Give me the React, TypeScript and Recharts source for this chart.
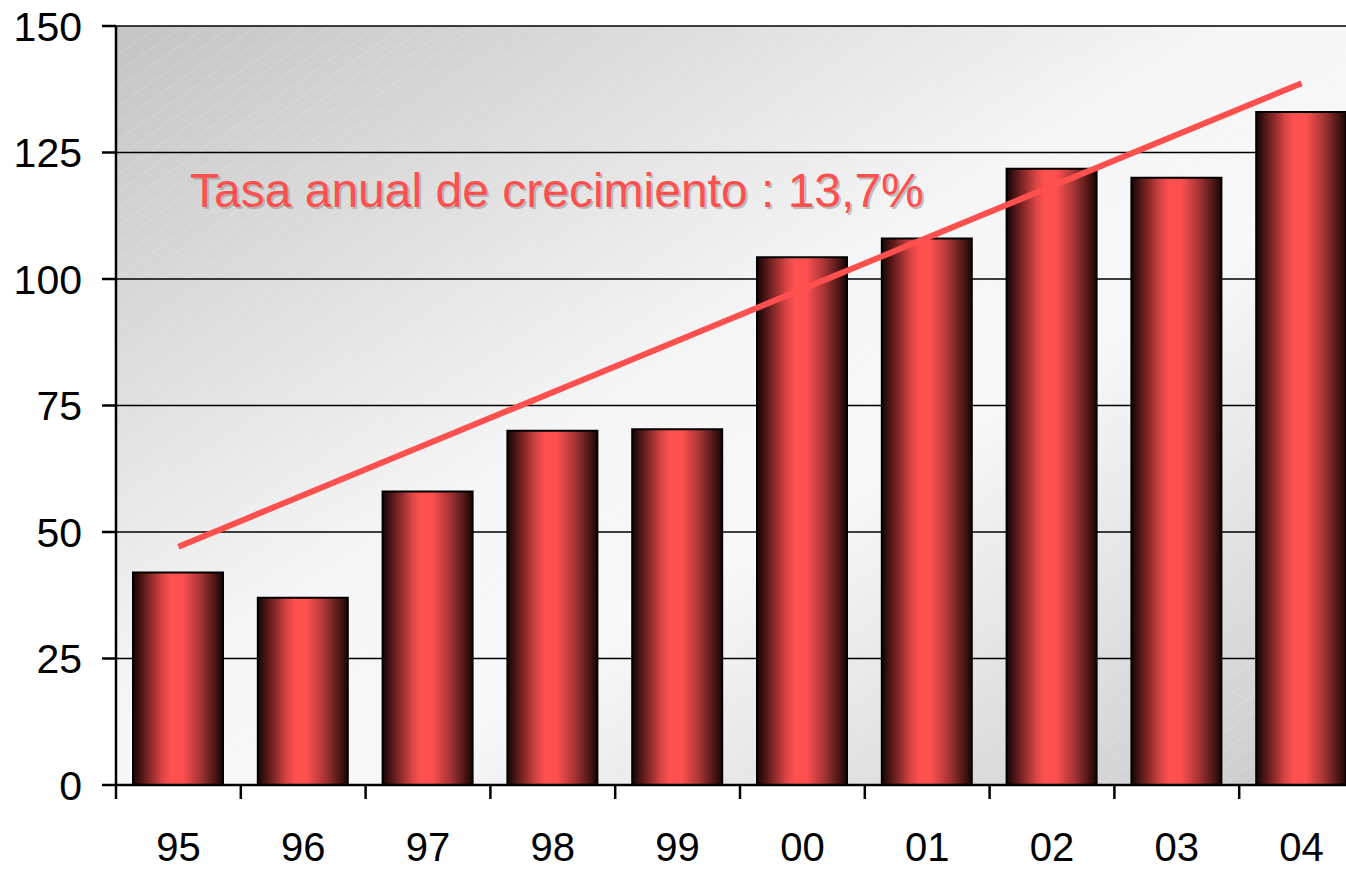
import React from "react";
import { BarChart, Bar, XAxis, YAxis, CartesianGrid, ReferenceLine } from "recharts";

// years (two-digit) and values
const years = ["95", "96", "97", "98", "99", "00", "01", "02", "03", "04"];
const values = [42, 37, 58, 70, 70.3, 104.3, 108, 121.8, 120, 133];
const yTicks = [0, 25, 50, 75, 100, 125, 150];
// trend line ends (first and last year)
const trendStart = 47.1;
const trendEnd = 138.7;
const caption = "Tasa anual de crecimiento : 13,7%";

const CHART_W = 1380;
const CHART_H = 870;
const Y_AXIS_W = 116;
const MARGIN = { top: 26, right: 16, left: 0, bottom: 0 };
const BAND = (CHART_W - Y_AXIS_W - MARGIN.right - MARGIN.left) / years.length;
const FONT = "'Liberation Sans', Arial, sans-serif";
const RED = "#ff5050";

const data = years.map((y, i) => ({ year: y, value: values[i] }));

function XTick(props: any) {
  const { x, y, payload, index } = props;
  const left = x - BAND / 2;
  return (
    <g>
      <line x1={left} y1={y} x2={left} y2={y + 14} stroke="#000" strokeWidth={2.5} />
      {index === years.length - 1 && (
        <line x1={x + BAND / 2} y1={y} x2={x + BAND / 2} y2={y + 14} stroke="#000" strokeWidth={2.5} />
      )}
      <text x={x} y={y + 76} textAnchor="middle" fontSize={40} fontFamily={FONT} fill="#000">
        {payload.value}
      </text>
    </g>
  );
}

export default function App() {
  return (
    <div style={{ position: "absolute", left: 0, top: 0, width: 1346, height: 870, overflow: "hidden", background: "#fff" }}>
      <BarChart width={CHART_W} height={CHART_H} data={data} margin={MARGIN}>
        <defs>
          <linearGradient id="bg" x1="0" y1="0" x2="1" y2="1">
            <stop offset="0%" stopColor="#c4c4c4" />
            <stop offset="45%" stopColor="#f6f6f6" />
            <stop offset="60%" stopColor="#f8f8f8" />
            <stop offset="100%" stopColor="#c8c8c8" />
          </linearGradient>
          <pattern id="hatch" width="14" height="14" patternUnits="userSpaceOnUse" patternTransform="rotate(-35)">
            <line x1="0" y1="0" x2="14" y2="0" stroke="#ffffff" strokeWidth={1} strokeOpacity={0.3} />
          </pattern>
          <linearGradient id="barFill" x1="0" y1="0" x2="1" y2="0">
            <stop offset="0%" stopColor="#140404" />
            <stop offset="15%" stopColor="#6e2020" />
            <stop offset="32%" stopColor="#d84444" />
            <stop offset="42%" stopColor="#ff5050" />
            <stop offset="55%" stopColor="#ff5050" />
            <stop offset="75%" stopColor="#a63434" />
            <stop offset="100%" stopColor="#1a0505" />
          </linearGradient>
        </defs>
        <CartesianGrid vertical={false} horizontal={false} fill="url(#bg)" />
        <CartesianGrid vertical={false} stroke="#000" strokeWidth={1.5} fill="url(#hatch)" strokeOpacity={1} />
        <XAxis
          dataKey="year"
          height={85}
          axisLine={{ stroke: "#000", strokeWidth: 2.5 }}
          tickLine={false}
          tickSize={0}
          tickMargin={0}
          interval={0}
          tick={<XTick />}
        />
        <YAxis
          domain={[0, 150]}
          ticks={yTicks}
          width={Y_AXIS_W}
          axisLine={{ stroke: "#000", strokeWidth: 2.5 }}
          tickLine={{ stroke: "#000", strokeWidth: 2.5 }}
          tickSize={14}
          tickMargin={20}
          tick={{ fontSize: 41, fontFamily: FONT, fill: "#000" }}
          interval={0}
        />
        <Bar dataKey="value" barSize={90} fill="url(#barFill)" stroke="#000" strokeWidth={2} isAnimationActive={false} />
        <ReferenceLine
          segment={[
            { x: years[0], y: trendStart },
            { x: years[years.length - 1], y: trendEnd },
          ]}
          stroke={RED}
          strokeWidth={6}
          ifOverflow="visible"
        />
      </BarChart>
      <svg width={1346} height={870} style={{ position: "absolute", left: 0, top: 0, pointerEvents: "none" }}>
        <text x={192} y={209} fontSize={48} fontFamily={FONT} fill="#9a9a9a" fillOpacity={0.6}>
          {caption}
        </text>
        <text x={190} y={207} fontSize={48} fontFamily={FONT} fill={RED}>
          {caption}
        </text>
      </svg>
    </div>
  );
}
